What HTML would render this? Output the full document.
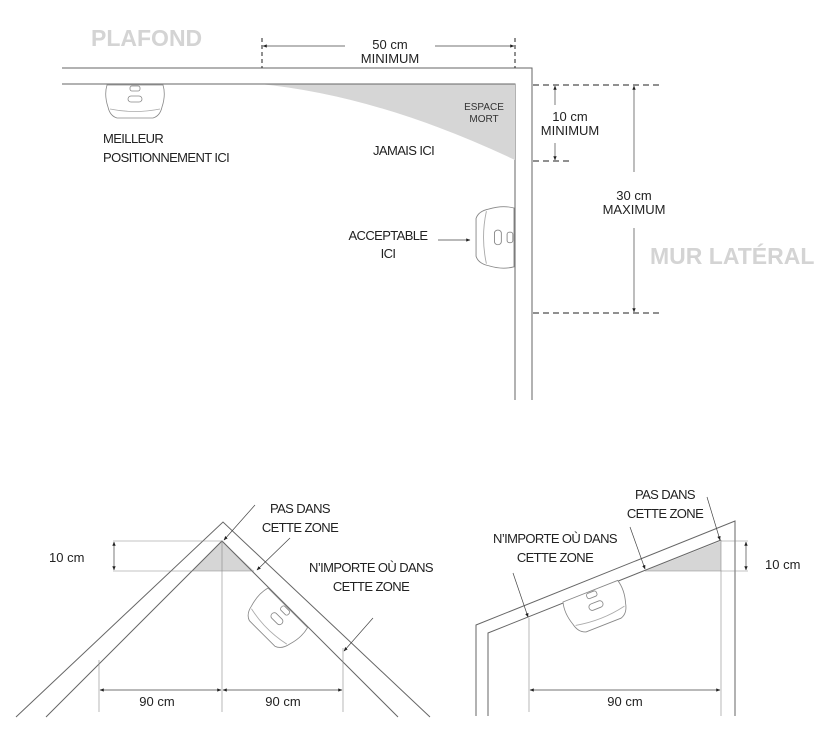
<!DOCTYPE html>
<html><head><meta charset="utf-8"><style>
html,body{margin:0;padding:0;background:#fff}
svg{display:block}
text{font-family:"Liberation Sans",sans-serif;fill:#222}
.t{font-size:13px;letter-spacing:-0.6px}
.g{font-size:23px;font-weight:bold;fill:#d4d4d4}
</style></head><body>
<svg width="838" height="744" viewBox="0 0 838 744" xmlns="http://www.w3.org/2000/svg">
<defs>
<marker id="a" viewBox="0 0 10 10" refX="9" refY="5" markerWidth="6" markerHeight="6" orient="auto-start-reverse"><path d="M0,1 L10,5 L0,9 z" fill="#222"/></marker>
<g id="det" fill="#fff" stroke="#888" stroke-width="0.8">
<path d="M0,0 L56,0 Q59,10 55,22 Q53,31 46,33 L10,33 Q3,31 1,22 Q-3,10 0,0 Z"/>
<path d="M3,24 Q28,29 53,24" fill="none" stroke="#aaa"/>
<rect x="23" y="1" width="10" height="5" rx="2"/>
<rect x="21" y="11" width="14" height="6" rx="3"/>
</g>
</defs>
<g fill="none" stroke="#666" stroke-width="1">
<path d="M62,68 L532,68 L532,400"/>
<path d="M62,84 L515,84 L515,400"/>
</g>
<path d="M260,84 Q420,84 515,84 L515,160 Q380,96 260,84 Z" fill="#d6d6d6"/>
<path d="M260,84 Q420,84 515,84" fill="none" stroke="#666"/>
<text class="g" x="91" y="46">PLAFOND</text>
<text class="g" x="650" y="264">MUR LATÉRAL</text>
<g stroke="#222" stroke-width="1" stroke-dasharray="4,3"><line x1="262" y1="38" x2="262" y2="68"/><line x1="515" y1="38" x2="515" y2="68"/></g>
<g stroke="#444" stroke-width="0.7" marker-end="url(#a)"><line x1="345" y1="46" x2="263" y2="46"/><line x1="435" y1="46" x2="514" y2="46"/></g>
<text x="390" y="49" text-anchor="middle" style="font-size:13px">50 cm</text>
<text x="390" y="63" text-anchor="middle" style="font-size:13px">MINIMUM</text>
<g stroke="#222" stroke-width="1" stroke-dasharray="6,4"><line x1="533" y1="85" x2="662" y2="85"/><line x1="533" y1="161" x2="572" y2="161"/><line x1="533" y1="313" x2="662" y2="313"/></g>
<g stroke="#444" stroke-width="0.7" marker-end="url(#a)">
<line x1="555" y1="105" x2="555" y2="86"/><line x1="555" y1="143" x2="555" y2="160"/>
<line x1="634" y1="172" x2="634" y2="86"/><line x1="634" y1="228" x2="634" y2="312"/>
<line x1="438" y1="240" x2="470" y2="240"/>
</g>
<text x="570" y="121" text-anchor="middle" style="font-size:13px">10 cm</text>
<text x="570" y="135" text-anchor="middle" style="font-size:13px">MINIMUM</text>
<text x="634" y="200" text-anchor="middle" style="font-size:13px">30 cm</text>
<text x="634" y="214" text-anchor="middle" style="font-size:13px">MAXIMUM</text>
<text x="484" y="110" text-anchor="middle" style="font-size:10px;fill:#333">ESPACE</text>
<text x="484" y="122" text-anchor="middle" style="font-size:10px;fill:#333">MORT</text>
<text class="t" x="103" y="143">MEILLEUR</text>
<text class="t" x="103" y="162">POSITIONNEMENT ICI</text>
<text class="t" x="373" y="155">JAMAIS ICI</text>
<text class="t" x="388" y="240" text-anchor="middle">ACCEPTABLE</text>
<text class="t" x="388" y="258" text-anchor="middle">ICI</text>
<use href="#det" transform="translate(107,85)"/>
<use href="#det" transform="translate(514,208) rotate(90) scale(1.05,1.15)"/>

<path d="M192,571 L222,541 L254,571 Z" fill="#d6d6d6"/>
<g fill="none" stroke="#666" stroke-width="1">
<path d="M16,717 L223,522 L430,717"/>
<path d="M46,717 L222,541 L398,717"/>
</g>
<g stroke="#888" stroke-width="0.6" fill="none">
<line x1="113" y1="541" x2="222" y2="541"/><line x1="113" y1="571" x2="254" y2="571"/>
<line x1="222" y1="541" x2="222" y2="712"/>
<line x1="99" y1="660" x2="99" y2="712"/><line x1="343" y1="648" x2="343" y2="712"/>
</g>
<g stroke="#444" stroke-width="0.7" marker-end="url(#a)">
<line x1="114" y1="556" x2="114" y2="542"/><line x1="114" y1="556" x2="114" y2="570"/>
<line x1="160" y1="690" x2="100" y2="690"/><line x1="160" y1="690" x2="221" y2="690"/>
<line x1="283" y1="690" x2="223" y2="690"/><line x1="283" y1="690" x2="342" y2="690"/>
<line x1="255" y1="505" x2="224" y2="540"/><line x1="290" y1="538" x2="257" y2="570"/><line x1="373" y1="618" x2="344" y2="651"/>
</g>
<text x="49" y="562" style="font-size:13px">10 cm</text>
<text x="157" y="706" text-anchor="middle" style="font-size:13px">90 cm</text>
<text x="283" y="706" text-anchor="middle" style="font-size:13px">90 cm</text>
<text class="t" x="300" y="513" text-anchor="middle">PAS DANS</text>
<text class="t" x="300" y="532" text-anchor="middle">CETTE ZONE</text>
<text class="t" x="371" y="572" text-anchor="middle">N’IMPORTE OÙ DANS</text>
<text class="t" x="371" y="591" text-anchor="middle">CETTE ZONE</text>
<use href="#det" transform="translate(268,588) rotate(45) scale(1,1.1)"/>

<path d="M645,571 L721,541 L721,571 Z" fill="#d6d6d6"/>
<g fill="none" stroke="#666" stroke-width="1">
<path d="M476,716 L476,625 L735,521 L735,716"/>
<path d="M488,716 L488,633 L721,540"/>
</g>
<g stroke="#888" stroke-width="0.6" fill="none">
<line x1="721" y1="540" x2="721" y2="716"/>
<line x1="529" y1="618" x2="529" y2="712"/>
<line x1="721" y1="541" x2="748" y2="541"/><line x1="645" y1="571" x2="748" y2="571"/>
</g>
<g stroke="#444" stroke-width="0.7" marker-end="url(#a)">
<line x1="746" y1="556" x2="746" y2="542"/><line x1="746" y1="556" x2="746" y2="570"/>
<line x1="625" y1="690" x2="530" y2="690"/><line x1="625" y1="690" x2="720" y2="690"/>
<line x1="707" y1="497" x2="720" y2="540"/><line x1="630" y1="527" x2="645" y2="569"/><line x1="513" y1="573" x2="528" y2="617"/>
</g>
<text x="765" y="569" style="font-size:13px">10 cm</text>
<text x="625" y="706" text-anchor="middle" style="font-size:13px">90 cm</text>
<text class="t" x="665" y="499" text-anchor="middle">PAS DANS</text>
<text class="t" x="665" y="518" text-anchor="middle">CETTE ZONE</text>
<text class="t" x="555" y="543" text-anchor="middle">N’IMPORTE OÙ DANS</text>
<text class="t" x="555" y="562" text-anchor="middle">CETTE ZONE</text>
<use href="#det" transform="translate(563,602) rotate(-21.5) scale(1.05,1.1)"/>
</svg>
</body></html>
